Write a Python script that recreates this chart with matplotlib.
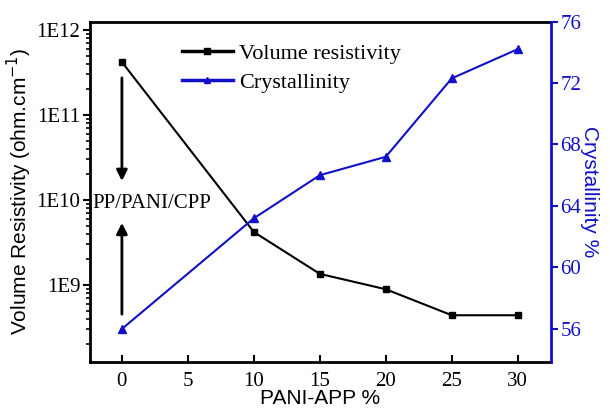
import matplotlib
matplotlib.use('Agg')
import matplotlib.pyplot as plt
from matplotlib.lines import Line2D

# PANI-APP loading (%)
pani_app = [0, 10, 15, 20, 25, 30]
# volume resistivity (ohm.cm^-1)
resistivity = [4.2e11, 4.2e9, 1.35e9, 8.9e8, 4.4e8, 4.4e8]
# crystallinity (%)
crystallinity = [56.0, 63.2, 66.0, 67.2, 72.3, 74.2]

xticks = [0, 5, 10, 15, 20, 25, 30]
left_ticks = [1e9, 1e10, 1e11, 1e12]
left_ticklabels = ['1E9', '1E10', '1E11', '1E12']
right_ticks = [56, 60, 64, 68, 72, 76]

serif = 'Liberation Serif'
sans = 'Liberation Sans'
blue = '#1010c8'

fig = plt.figure(figsize=(6.1, 4.12), dpi=100)
ax = fig.add_axes([0.1475, 0.1214, 0.7553, 0.8264])
ax2 = ax.twinx()

ax.plot(pani_app, resistivity, color='black', marker='s', markersize=5,
        linewidth=1.5)
ax2.plot(pani_app, crystallinity, color=blue, marker='^', markersize=6,
         linewidth=1.5)

ax.set_yscale('log')
ax.set_xlim(-2.42, 32.5)
ax.set_ylim(1.24e8, 1.26e12)
ax2.set_ylim(53.85, 76)

ax.set_xticks(xticks)
ax.set_xticklabels([str(v) for v in xticks], fontfamily=serif, fontsize=15)
ax.set_yticks(left_ticks)
ax.set_yticklabels(left_ticklabels, fontfamily=serif, fontsize=15)
ax2.set_yticks(right_ticks)
ax2.set_yticklabels([str(v) for v in right_ticks], fontfamily=serif,
                    fontsize=15, color=blue)

ax.tick_params(axis='x', direction='in', length=5, width=1.5, pad=7)
ax.tick_params(axis='y', which='major', direction='out', length=5, width=1.5,
               pad=2)
ax.tick_params(axis='y', which='minor', direction='out', length=3, width=1.2)
ax2.tick_params(axis='y', which='major', direction='out', length=5, width=1.5,
                color=blue, pad=2)
ax2.tick_params(axis='y', which='minor', right=False)

for side in ['left', 'top', 'bottom']:
    ax.spines[side].set_linewidth(2)
ax2.spines['right'].set_color(blue)
ax2.spines['right'].set_linewidth(2)
ax2.spines['left'].set_visible(False)
ax2.spines['top'].set_visible(False)
ax2.spines['bottom'].set_visible(False)
ax.spines['right'].set_visible(False)

ax.set_xlabel('PANI-APP %', fontfamily=sans, fontsize=15, labelpad=-1)
ax.set_ylabel('Volume Resistivity (ohm.cm$^{-1}$)', fontfamily=sans,
              fontsize=15, labelpad=2)
ax2.set_ylabel('Crystallinity %', fontfamily=sans, fontsize=15, color=blue,
               rotation=270, labelpad=13)

# arrows pointing at the sample label
ax.annotate('', xy=(0, 1.55e10), xytext=(0, 2.95e11),
            arrowprops=dict(arrowstyle='-|>', color='black', lw=2,
                            mutation_scale=16))
ax.annotate('', xy=(0, 5.8e9), xytext=(0, 4.2e8),
            arrowprops=dict(arrowstyle='-|>', color='black', lw=2,
                            mutation_scale=16))
ax.text(2.3, 9.0e9, 'PP/PANI/CPP', fontfamily=serif, fontsize=15,
        ha='center', va='center')

handles = [
    Line2D([], [], color='black', marker='s', markersize=4, linewidth=2.5),
    Line2D([], [], color=blue, marker='^', markersize=5, linewidth=2.5),
]
ax.legend(handles, ['Volume resistivity', 'Crystallinity'],
          loc='upper left', bbox_to_anchor=(0.17, 0.975), frameon=False,
          prop={'family': serif, 'size': 16}, handlelength=2.3,
          handletextpad=0.3, labelspacing=0.38, borderaxespad=0.2)

fig.savefig('out.png', dpi=100)
